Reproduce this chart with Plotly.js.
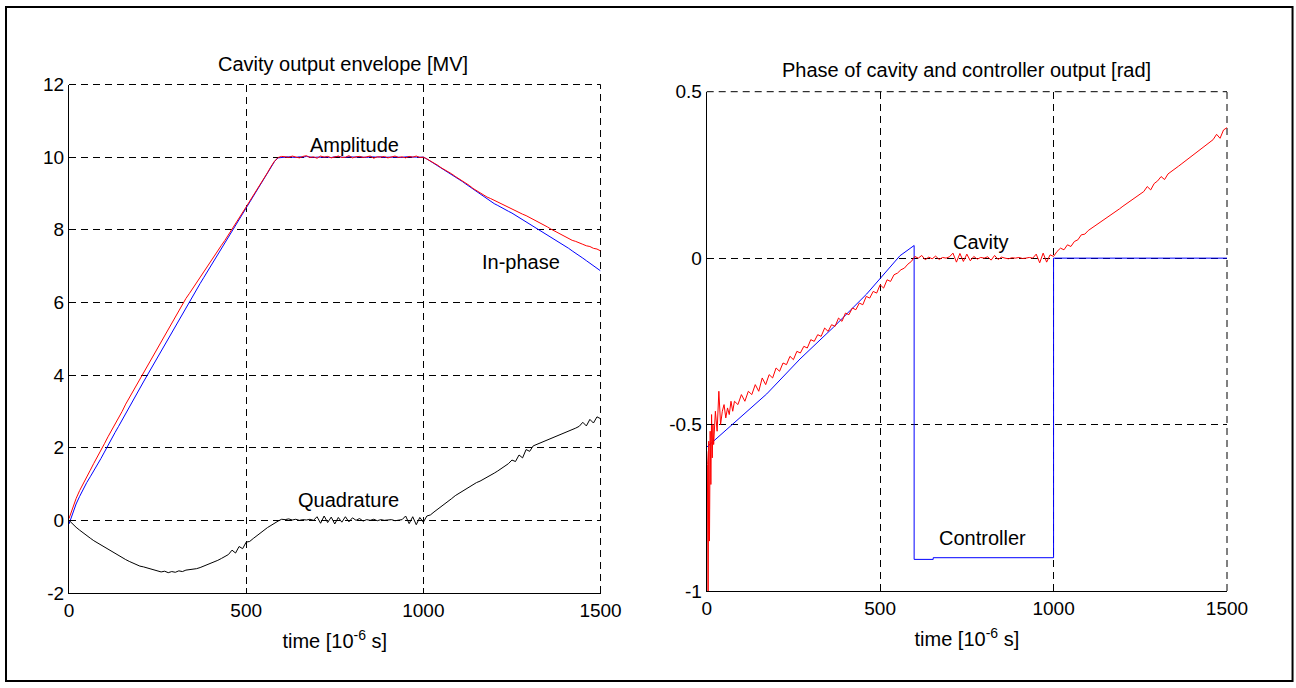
<!DOCTYPE html>
<html>
<head>
<meta charset="utf-8">
<script src="https://cdn.plot.ly/plotly-3.0.1.min.js"></script>
<style>html,body{margin:0;padding:0;background:#fff;}#chart{width:1296px;height:688px;}</style>
</head>
<body>
<div id="chart"></div>
<script>
// ---- Left panel: cavity output envelope [MV] (time in microseconds) ----
const TIME = [0,10,20,30,40,50,60,70,80,90,100,110,120,130,140,150,160,170,180,190,
200,210,220,230,240,250,260,270,280,290,300,310,320,330,340,350,360,370,380,390,
400,410,420,430,440,450,460,470,480,490,500,510,520,530,540,550,560,570,580,590,
600,610,620,630,640,650,660,670,680,690,700,710,720,730,740,750,760,770,780,790,
800,810,820,830,840,850,860,870,880,890,900,910,920,930,940,950,960,970,980,990,
1000,1010,1020,1030,1040,1050,1060,1070,1080,1090,1100,1110,1120,1130,1140,1150,1160,1170,1180,1190,
1200,1210,1220,1230,1240,1250,1260,1270,1280,1290,1300,1310,1320,1330,1340,1350,1360,1370,1380,1390,
1400,1410,1420,1430,1440,1450,1460,1470,1480,1490,1500];

const AMPLITUDE = [0.05,0.33,0.6,0.82,1.02,1.2,1.38,1.57,1.74,1.93,
2.11,2.3,2.47,2.65,2.83,3.0,3.2,3.37,3.55,3.73,
3.91,4.08,4.26,4.42,4.6,4.76,4.94,5.1,5.28,5.44,
5.62,5.78,5.95,6.11,6.25,6.4,6.54,6.7,6.83,6.99,
7.12,7.28,7.42,7.57,7.71,7.86,8.0,8.16,8.31,8.47,
8.63,8.79,8.94,9.11,9.26,9.42,9.57,9.74,9.89,9.99,
10.02,
10.01,9.99,10.03,10.0,9.98,10.02,10.04,9.99,10.01,9.97,
10.03,10.0,10.02,9.98,10.01,10.03,9.99,10.0,10.04,9.98,
10.01,10.02,9.99,10.0,10.03,9.97,10.01,10.0,10.02,9.98,
10.0,10.03,9.99,10.01,9.98,10.02,10.0,10.03,9.99,10.0,
9.95,9.9,9.83,9.78,9.71,9.66,9.59,9.54,9.47,9.41,
9.36,9.28,9.22,9.14,9.08,9.01,8.96,8.9,8.86,8.81,
8.77,8.72,8.68,8.62,8.58,8.52,8.48,8.43,8.39,8.34,
8.3,8.24,8.2,8.13,8.08,8.02,7.97,7.9,7.86,7.8,
7.76,7.71,7.68,7.63,7.6,7.56,7.54,7.49,7.47,7.42];

const IN_PHASE = [-0.1,0.2,0.45,0.66,0.86,1.04,1.2,1.36,1.52,1.7,
1.88,2.07,2.24,2.42,2.59,2.77,2.94,3.12,3.29,3.46,
3.63,3.81,3.98,4.15,4.33,4.5,4.67,4.85,5.02,5.19,
5.36,5.54,5.71,5.88,6.04,6.2,6.36,6.52,6.68,6.84,
6.99,7.15,7.31,7.47,7.62,7.78,7.94,8.1,8.26,8.42,
8.58,8.76,8.93,9.09,9.25,9.41,9.57,9.72,9.88,9.98,
10.0,
10.0,10.01,10.0,9.99,10.01,10.0,10.02,10.0,9.99,10.0,
10.01,10.0,10.0,9.99,10.01,10.02,10.0,9.99,10.01,10.0,
10.0,10.01,10.0,9.99,10.01,10.0,10.0,10.01,9.99,10.0,
10.01,10.0,10.0,9.99,10.01,10.0,10.01,10.0,10.0,10.0,
9.95,9.89,9.83,9.77,9.71,9.65,9.58,9.52,9.46,9.4,
9.33,9.26,9.19,9.13,9.06,8.99,8.92,8.85,8.78,8.72,
8.67,8.61,8.56,8.51,8.46,8.4,8.35,8.29,8.23,8.17,
8.11,8.04,7.98,7.91,7.85,7.79,7.73,7.67,7.62,7.56,
7.49,7.42,7.36,7.29,7.22,7.15,7.08,7.01,6.94,6.87];

const QUADRATURE = [0.0,-0.1,-0.19,-0.27,-0.35,-0.42,-0.49,-0.56,-0.62,-0.68,
-0.74,-0.8,-0.85,-0.9,-0.96,-1.02,-1.08,-1.13,-1.18,-1.22,
-1.26,-1.28,-1.31,-1.34,-1.37,-1.38,-1.42,-1.4,-1.44,-1.41,
-1.43,-1.39,-1.41,-1.37,-1.36,-1.34,-1.33,-1.3,-1.26,-1.23,
-1.2,-1.15,-1.1,-1.05,-0.99,-0.94,-0.82,-0.9,-0.72,-0.78,
-0.6,-0.58,-0.5,-0.42,-0.34,-0.28,-0.2,-0.14,-0.07,-0.02,
0.03,0.02,0.04,0.01,0.03,0.0,0.02,0.01,0.03,0.0,
0.1,-0.08,0.12,-0.06,0.09,-0.1,0.08,-0.05,0.1,-0.04,
0.07,0.0,0.05,-0.02,0.02,0.0,0.03,-0.01,0.02,0.0,
0.01,0.02,-0.01,0.01,0.02,0.12,-0.09,0.1,-0.12,0.08,
-0.05,
0.12,0.15,0.23,0.3,0.38,0.45,0.53,0.6,0.68,0.74,
0.81,0.88,0.94,0.99,1.04,1.08,1.13,1.18,1.24,1.3,
1.36,1.43,1.5,1.56,1.66,1.62,1.8,1.72,1.95,1.9,
2.05,2.09,2.12,2.16,2.2,2.24,2.28,2.32,2.36,2.41,
2.45,2.49,2.54,2.59,2.7,2.6,2.78,2.68,2.85,2.8];

// ---- Right panel: phase of cavity and controller output [rad] ----
const CAVITY_TIME = [0,2,4,6,8,10,12,14,16,18,20,25,30,35,40,45,50,55,60,65,70,75,80,90,
100,110,120,130,140,150,160,170,180,190,200,210,220,230,240,250,260,270,280,290,
300,310,320,330,340,350,360,370,380,390,400,410,420,430,440,450,460,470,480,490,
500,510,520,530,540,550,560,570,580,590,600,610,620,630,640,650,660,670,680,690,
700,710,720,730,740,750,760,770,780,790,800,810,820,830,840,850,860,870,880,890,
900,910,920,930,940,950,960,970,980,990,1000,1010,1020,1030,1040,1050,1060,1070,1080,1090,
1100,1110,1120,1130,1140,1150,1160,1170,1180,1190,1200,1210,1220,1230,1240,1250,1260,1270,1280,1290,
1300,1310,1320,1330,1340,1350,1360,1370,1380,1390,1400,1410,1420,1430,1440,1450,1460,1470,1480,1490,1500];

const CAVITY_PHASE = [-0.58,-0.62,-1.1,-0.55,-0.85,-0.52,-0.68,-0.47,-0.6,-0.5,-0.56,-0.46,-0.52,-0.4,-0.5,-0.46,-0.44,-0.48,-0.45,-0.47,-0.43,-0.46,-0.43,-0.44,
-0.41,-0.43,-0.4,-0.41,-0.38,-0.4,-0.36,-0.38,-0.35,-0.36,
-0.33,-0.34,-0.315,-0.32,-0.295,-0.305,-0.28,-0.285,-0.265,-0.27,
-0.245,-0.25,-0.23,-0.235,-0.21,-0.22,-0.2,-0.205,-0.18,-0.19,
-0.165,-0.17,-0.15,-0.155,-0.135,-0.14,-0.115,-0.12,-0.1,-0.105,
-0.08,-0.09,-0.065,-0.07,-0.05,-0.045,-0.035,-0.03,-0.018,-0.01,
0.005,
0.0,0.008,-0.005,0.003,-0.002,0.006,-0.004,0.002,0.0,0.004,
0.015,-0.012,0.014,-0.01,0.012,-0.008,0.005,-0.003,0.002,0.0,
0.004,-0.006,0.008,-0.004,0.003,0.0,-0.002,0.001,0.0,0.002,
-0.001,0.0,0.002,0.0,0.012,-0.014,0.015,-0.012,0.01,0.005,
0.02,0.03,0.025,0.04,0.035,0.05,0.055,0.07,0.072,0.083,
0.09,0.097,0.105,0.112,0.119,0.126,0.133,0.14,0.148,0.156,
0.163,0.17,0.178,0.185,0.192,0.2,0.215,0.205,0.224,0.232,
0.245,0.236,0.253,0.26,0.268,0.276,0.284,0.292,0.3,0.308,
0.316,0.324,0.332,0.34,0.348,0.356,0.372,0.36,0.385,0.392];

const CONTROLLER_TIME  = [0, 77, 173, 269, 365, 461, 557, 598, 598, 653, 653, 1000, 1000, 1500];
const CONTROLLER_PHASE = [-0.568, -0.498, -0.408, -0.303, -0.208, -0.108, 0.007, 0.038, -0.905, -0.905, -0.9, -0.9, 0, 0];

// ---- Tick labels and texts ----
const X_TICKS = [0, 500, 1000, 1500];
const X_TICK_TEXT = ['0', '500', '1000', '1500'];
const Y1_TICKS = [-2, 0, 2, 4, 6, 8, 10, 12];
const Y1_TICK_TEXT = ['-2', '0', '2', '4', '6', '8', '10', '12'];
const Y2_TICKS = [-1, -0.5, 0, 0.5];
const Y2_TICK_TEXT = ['-1', '-0.5', '0', '0.5'];
const LEFT_TITLE = 'Cavity output envelope [MV]';
const RIGHT_TITLE = 'Phase of cavity and controller output [rad]';
const X_TITLE = 'time [10<sup>-6</sup> s]';

const FONT = 'Liberation Sans, Arial, Helvetica, sans-serif';
const DASH = '7px,5px';

const traces = [
  {x: TIME, y: IN_PHASE, xaxis: 'x', yaxis: 'y', mode: 'lines', line: {color: '#0000ff', width: 1}, name: 'In-phase'},
  {x: TIME, y: AMPLITUDE, xaxis: 'x', yaxis: 'y', mode: 'lines', line: {color: '#ff0000', width: 1}, name: 'Amplitude'},
  {x: TIME, y: QUADRATURE, xaxis: 'x', yaxis: 'y', mode: 'lines', line: {color: '#000000', width: 1}, name: 'Quadrature'},
  {x: CONTROLLER_TIME, y: CONTROLLER_PHASE, xaxis: 'x2', yaxis: 'y2', mode: 'lines', line: {color: '#0000ff', width: 1}, name: 'Controller'},
  {x: CAVITY_TIME, y: CAVITY_PHASE, xaxis: 'x2', yaxis: 'y2', mode: 'lines', line: {color: '#ff0000', width: 1}, name: 'Cavity'}
];

function xAxis(domain, anchor) {
  return {
    domain: domain, anchor: anchor, range: [0, 1500],
    tickmode: 'array', tickvals: X_TICKS, ticktext: X_TICK_TEXT,
    showgrid: true, gridcolor: '#000', gridwidth: 1, griddash: DASH,
    showline: true, linecolor: '#000', linewidth: 1, mirror: false,
    zeroline: false, ticks: 'inside', ticklen: 5, tickcolor: '#000',
    tickfont: {family: FONT, size: 19, color: '#000'},
    title: {text: X_TITLE, font: {family: FONT, size: 20, color: '#000'}, standoff: 14},
    fixedrange: true
  };
}
function yAxis(domain, anchor, range, vals, text) {
  return {
    domain: domain, anchor: anchor, range: range,
    tickmode: 'array', tickvals: vals, ticktext: text,
    showgrid: true, gridcolor: '#000', gridwidth: 1, griddash: DASH,
    showline: true, linecolor: '#000', linewidth: 1, mirror: false,
    zeroline: false, ticks: 'inside', ticklen: 5, tickcolor: '#000',
    tickfont: {family: FONT, size: 19, color: '#000'},
    fixedrange: true
  };
}

// dashed grid lines on the top and right edges of each panel (MATLAB-style, no box)
function edgeGrid(xr, yr) {
  const ln = {color: '#000', width: 1, dash: DASH};
  return [
    {type: 'line', xref: xr + ' domain', yref: yr + ' domain', x0: 0, x1: 1, y0: 1, y1: 1, line: ln, layer: 'below'},
    {type: 'line', xref: xr + ' domain', yref: yr + ' domain', x0: 1, x1: 1, y0: 0, y1: 1, line: ln, layer: 'below'}
  ];
}

const annFont = {family: FONT, size: 20, color: '#000'};
const layout = {
  width: 1296, height: 688,
  margin: {l: 69, r: 69, t: 80, b: 95},
  paper_bgcolor: '#fff', plot_bgcolor: '#fff',
  showlegend: false,
  font: {family: FONT, color: '#000'},
  xaxis: xAxis([0, 0.459], 'y'),
  yaxis: yAxis([0, 0.9912], 'x', [-2, 12], Y1_TICKS, Y1_TICK_TEXT),
  xaxis2: xAxis([0.5507, 1], 'y2'),
  yaxis2: yAxis([0.0039, 0.9772], 'x2', [-1, 0.5], Y2_TICKS, Y2_TICK_TEXT),
  annotations: [
    {xref: 'x', yref: 'y domain', x: 772, y: 1, yanchor: 'middle', yshift: 21, text: LEFT_TITLE, showarrow: false, font: annFont},
    {xref: 'x2', yref: 'y2 domain', x: 750, y: 1, yanchor: 'middle', yshift: 22, text: RIGHT_TITLE, showarrow: false, font: annFont},
    {xref: 'x', yref: 'y', x: 806, y: 10.34, text: 'Amplitude', showarrow: false, font: annFont},
    {xref: 'x', yref: 'y', x: 1276, y: 7.12, text: 'In-phase', showarrow: false, font: annFont},
    {xref: 'x', yref: 'y', x: 788, y: 0.55, text: 'Quadrature', showarrow: false, font: annFont},
    {xref: 'x2', yref: 'y2', x: 791, y: 0.049, text: 'Cavity', showarrow: false, font: annFont},
    {xref: 'x2', yref: 'y2', x: 796, y: -0.842, text: 'Controller', showarrow: false, font: annFont}
  ],
  shapes: [].concat(edgeGrid('x', 'y'), edgeGrid('x2', 'y2'), [
    {type: 'rect', xref: 'paper', yref: 'paper', x0: -0.0544, x1: 1.0566, y0: -0.1715, y1: 1.1423,
     line: {color: '#000', width: 2}, fillcolor: 'rgba(0,0,0,0)', layer: 'above'}
  ])
};

Plotly.newPlot('chart', traces, layout, {displayModeBar: false, staticPlot: true});
</script>
</body>
</html>
